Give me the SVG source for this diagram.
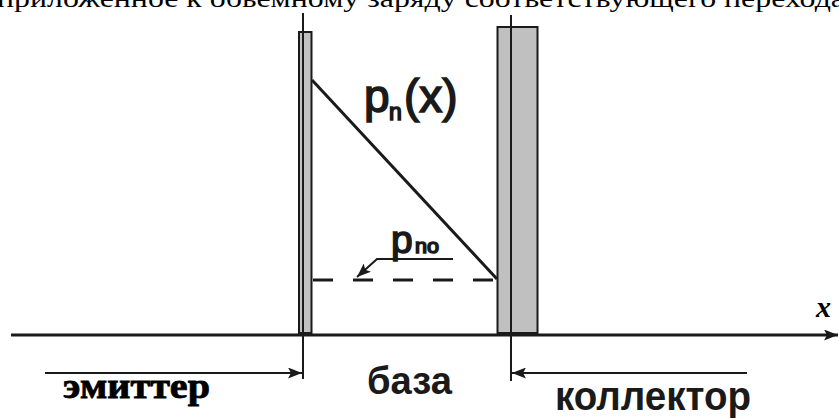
<svg xmlns="http://www.w3.org/2000/svg" width="839" height="418" viewBox="0 0 839 418">
<style>
.ln{stroke:#1a1a1a;stroke-width:3;fill:none}
.thin{stroke:#1a1a1a;stroke-width:2;fill:none}
.bar{fill:#c0c0c0;stroke:#1a1a1a;stroke-width:2}
.sans{font-family:"Liberation Sans",Arial,sans-serif;fill:#1a1a1a}
.heavy{stroke:#1a1a1a;stroke-width:1.6}
.serif{font-family:"Liberation Serif","Times New Roman",serif;fill:#000}
</style>
<defs>
<marker id="ah" markerWidth="15" markerHeight="11" refX="14" refY="5.5" orient="auto" markerUnits="userSpaceOnUse">
<path d="M0,0 L14,5.5 L0,11 L3,5.5 Z" fill="#1a1a1a"/>
</marker>
</defs>
<rect width="839" height="418" fill="#fff"/>
<text class="serif" x="-3" y="7" font-size="26" textLength="848" lengthAdjust="spacingAndGlyphs">приложенное к обьемному заряду соответствующего перехода</text>
<g id="connectors">
<line class="ln" x1="11" y1="335" x2="838" y2="335" marker-end="url(#ah)"/>
<line class="ln" x1="312" y1="80" x2="497" y2="279" stroke-width="4"/>
<line class="ln" x1="313" y1="280" x2="497" y2="280" stroke-width="4.5" stroke-dasharray="20 20"/>
<polyline class="thin" points="453,259 377,259 357,277" marker-end="url(#ah)"/>
<line class="thin" x1="45" y1="373" x2="302" y2="373" marker-end="url(#ah)"/>
<line class="thin" x1="747" y1="373" x2="512" y2="373" marker-end="url(#ah)"/>
</g>
<g id="emitter">
<rect class="bar" x="299" y="32" width="12.5" height="301"/>
<line class="thin" x1="303" y1="13" x2="303" y2="379"/>
</g>
<g id="collector">
<rect class="bar" x="497.5" y="27" width="40" height="306" stroke-width="2.4"/>
<line class="thin" x1="511" y1="15" x2="511" y2="381" stroke-width="2.4"/>
</g>
<g id="label-pn">
<text class="sans heavy" x="364" y="112" font-size="46">p</text>
<text class="sans heavy" x="389" y="120" font-size="23" stroke-width="1">n</text>
<text class="sans heavy" x="404" y="112" font-size="46">(x)</text>
</g>
<g id="label-pno">
<text class="sans heavy" x="391" y="253" font-size="39">p</text>
<text class="sans heavy" x="415" y="253" font-size="20" stroke-width="1" textLength="24" lengthAdjust="spacingAndGlyphs">no</text>
</g>
<g id="label-base">
<text class="sans" x="367" y="394" font-size="38" font-weight="bold" textLength="85" lengthAdjust="spacingAndGlyphs">база</text>
</g>
<g id="label-emitter">
<text class="serif" x="63" y="398" font-size="35" font-weight="bold" stroke="#000" stroke-width="0.8" textLength="147" lengthAdjust="spacingAndGlyphs">эмиттер</text>
</g>
<g id="label-collector">
<text class="sans" x="555" y="410" font-size="41" font-weight="bold" textLength="196" lengthAdjust="spacingAndGlyphs">коллектор</text>
</g>
<g id="label-x">
<text class="serif" x="816" y="317" font-size="30" font-weight="bold" font-style="italic">x</text>
</g>
</svg>
